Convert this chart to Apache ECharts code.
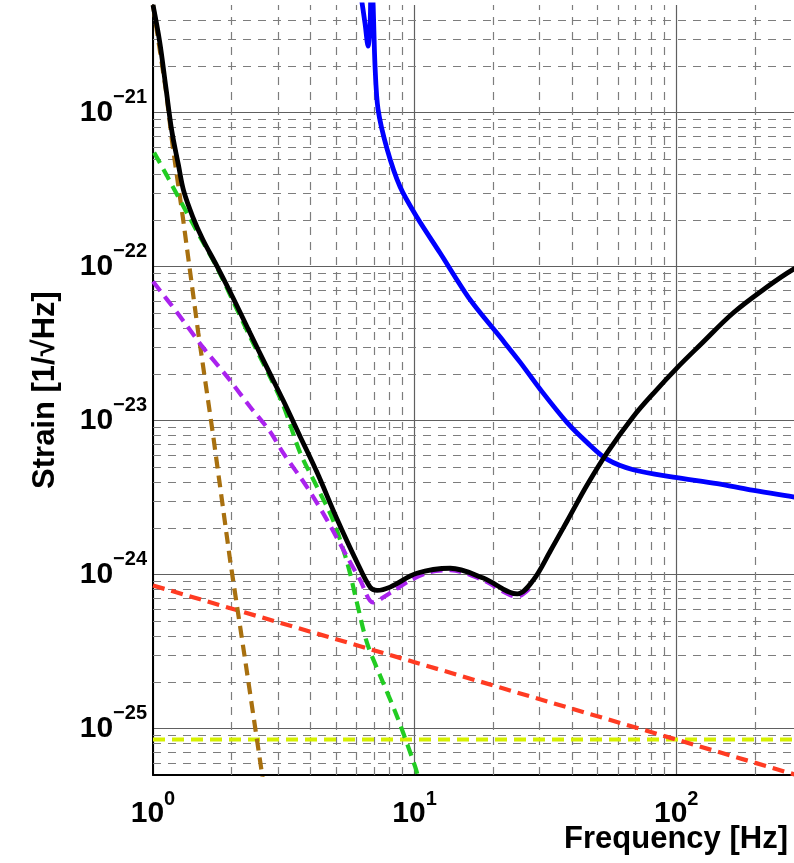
<!DOCTYPE html>
<html>
<head>
<meta charset="utf-8">
<script src="https://cdn.jsdelivr.net/npm/echarts@6/dist/echarts.min.js"></script>
<style>
  html, body { margin: 0; padding: 0; background: #fff; }
  #chart { width: 794px; height: 863px; }
</style>
</head>
<body>
<div id="chart"></div>
<script>
// axis ranges and grid multipliers
const freqRange = [1, 300]
const strainRange = [5e-26, 5e-21]
const minorSteps = [2, 3, 4, 5, 6, 7, 8, 9]
const freqDecades = [0, 1, 2]
const strainDecades = [-26, -25, -24, -23, -22, -21]

// total noise (black)
const totalFreq = [1.00, 1.06, 1.12, 1.18, 1.25, 1.31, 1.42, 1.55, 1.76, 2.02, 2.35, 2.73, 3.14, 3.65, 4.24, 5.05, 6.03, 6.76, 7.19, 8.06, 10.2, 13.7, 18.3, 24.7, 28.4, 33.0, 38.3, 45.7, 54.5, 68.5, 81.7, 101, 124, 165, 223, 280, 300]
const totalStrain = [5.0e-21, 2.9e-21, 1.46e-21, 7.6e-22, 4.6e-22, 3.1e-22, 2.1e-22, 1.5e-22, 1.0e-22, 6.3e-23, 3.7e-23, 2.2e-23, 1.36e-23, 7.9e-24, 4.6e-24, 2.3e-24, 1.2e-24, 8.3e-25, 7.9e-25, 8.3e-25, 1.02e-24, 1.10e-24, 9.5e-25, 7.5e-25, 9.2e-25, 1.42e-24, 2.23e-24, 3.83e-24, 6.2e-24, 1.06e-23, 1.5e-23, 2.21e-23, 3.12e-23, 5.0e-23, 7.4e-23, 9.6e-23, 1.0e-22]

// blue curve
const blueFreq = [6.19, 6.47, 6.64, 6.76, 6.82, 6.88, 6.94, 7.06, 7.25, 7.85, 8.80, 10.2, 12.5, 16.3, 21.2, 25.3, 30.2, 38.3, 45.7, 54.5, 68.5, 97.4, 143.5, 192, 280, 300]
const blueStrain = [6.3e-21, 3.75e-21, 2.7e-21, 3.75e-21, 6.3e-21, 6.3e-21, 5.06e-21, 2.0e-21, 1.05e-21, 5.8e-22, 3.3e-22, 2.1e-22, 1.23e-22, 6.1e-23, 3.5e-23, 2.4e-23, 1.6e-23, 9.7e-24, 7.2e-24, 5.6e-24, 4.8e-24, 4.3e-24, 3.9e-24, 3.55e-24, 3.2e-24, 3.1e-24]

// green dashed
const greenFreq = [1.01, 1.13, 1.30, 1.55, 1.76, 2.02, 2.35, 2.73, 3.14, 3.65, 4.24, 4.88, 5.53, 6.03, 6.58, 7.39, 8.57, 10.07, 10.5]
const greenStrain = [5.5e-22, 3.9e-22, 2.5e-22, 1.45e-22, 9.8e-23, 6.0e-23, 3.5e-23, 2.1e-23, 1.27e-23, 6.2e-24, 3.7e-24, 2.26e-24, 1.19e-24, 6.5e-25, 3.6e-25, 2.2e-25, 1.2e-25, 5.6e-26, 4.3e-26]

// purple dashed
const purpleFreq = [1.00, 1.24, 1.55, 1.92, 2.35, 2.80, 3.14, 3.88, 4.63, 5.53, 6.20, 6.93, 8.06, 9.63, 11.5, 13.7, 18.3, 24.7, 28.4]
const purpleStrain = [8.0e-23, 5.0e-23, 3.0e-23, 1.93e-23, 1.23e-23, 8.5e-24, 6.2e-24, 3.7e-24, 2.26e-24, 1.3e-24, 9.2e-25, 6.6e-25, 7.6e-25, 9.2e-25, 1.04e-24, 1.07e-24, 9.2e-25, 7.2e-25, 8.6e-25]

// brown dashed
const brownFreq = [1.00, 1.12, 1.19, 1.30, 1.49, 1.70, 1.97, 2.25, 2.61, 2.66]
const brownStrain = [5.0e-21, 1.4e-21, 6.0e-22, 2.1e-22, 3.7e-23, 7.9e-24, 1.25e-24, 2.8e-25, 5.1e-26, 4.0e-26]

// red dashed
const redFreq = [1, 10, 100, 300]
const redStrain = [8.5e-25, 2.7e-25, 8.5e-26, 4.9e-26]

// yellow-green dashed
const yellowFreq = [1, 300]
const yellowStrain = [8.5e-26, 8.5e-26]

const zip = (xs, ys) => xs.map((x, i) => [x, ys[i]])

const minorFreq = []
freqDecades.forEach(d => minorSteps.forEach(k => {
  const v = k * Math.pow(10, d)
  if (v < freqRange[1]) minorFreq.push(v)
}))
const minorStrain = []
strainDecades.forEach(d => minorSteps.forEach(k => {
  const v = k * Math.pow(10, d)
  if (v > strainRange[0] && v < strainRange[1]) minorStrain.push(v)
}))

const gridSegments = minorFreq.map(v => ({ coords: [[v, strainRange[0]], [v, strainRange[1]]] }))
  .concat(minorStrain.map(v => ({ coords: [[freqRange[0], v], [freqRange[1], v]] })))

const powLabel = (value) => {
  if (!(value > 0)) return ''
  const lg = Math.log10(value)
  const e = Math.round(lg)
  if (Math.abs(lg - e) > 1e-6) return ''
  const s = e < 0 ? '\u2212' + (-e) : String(e)
  return '{b|10}{s|' + s + '}'
}

const labelRich = {
  b: { fontSize: 30, fontWeight: 'bold', fontFamily: 'Liberation Sans', color: '#000', lineHeight: 50 },
  s: { fontSize: 20, fontWeight: 'bold', fontFamily: 'Liberation Sans', color: '#000', lineHeight: 20, verticalAlign: 'top' }
}

const dashed = (name, xs, ys, color, smooth) => ({
  name: name,
  type: 'line',
  data: zip(xs, ys),
  showSymbol: false,
  smooth: smooth,
  lineStyle: { color: color, width: 4.2, type: [12, 7] }
})

const chart = echarts.init(document.getElementById('chart'))

const option = {
  animation: false,
  backgroundColor: '#ffffff',
  title: {
    text: 'Frequency [Hz]',
    right: 6,
    top: 824,
    padding: 0,
    textStyle: { fontSize: 31, fontWeight: 'bold', fontFamily: 'Liberation Sans', color: '#000' }
  },
  grid: { left: 153, top: 5, right: -7, bottom: 88, containLabel: false, outerBoundsMode: 'none' },
  xAxis: {
    type: 'log',
    min: freqRange[0],
    max: freqRange[1],
    axisLine: { show: true, lineStyle: { color: '#000', width: 2 } },
    axisTick: { show: false },
    axisLabel: { margin: 14, formatter: powLabel, rich: labelRich },
    splitLine: { show: true, lineStyle: { color: '#606060', width: 1.2 } }
  },
  yAxis: {
    type: 'log',
    min: strainRange[0],
    max: strainRange[1],
    name: 'Strain [1/\u221AHz]',
    nameLocation: 'middle',
    nameGap: 92,
    nameMoveOverlap: false,
    nameTextStyle: { fontSize: 31, fontWeight: 'bold', fontFamily: 'Liberation Sans', color: '#000' },
    axisLine: { show: true, lineStyle: { color: '#000', width: 2 } },
    axisTick: { show: false },
    axisLabel: { margin: 6, formatter: powLabel, rich: labelRich },
    splitLine: { show: true, lineStyle: { color: '#606060', width: 1.2 } }
  },
  series: [
    {
      name: 'minor grid',
      type: 'lines',
      coordinateSystem: 'cartesian2d',
      z: 1,
      silent: true,
      lineStyle: { color: '#7d7d7d', width: 1.2, type: [8, 7], opacity: 1 },
      data: gridSegments
    },
    dashed('yellow', yellowFreq, yellowStrain, '#d6f000', false),
    dashed('red', redFreq, redStrain, '#ff3b22', false),
    dashed('brown', brownFreq, brownStrain, '#a8700f', false),
    dashed('green', greenFreq, greenStrain, '#22cc22', 0.3),
    dashed('purple', purpleFreq, purpleStrain, '#aa22ee', 0.3),
    {
      name: 'blue',
      type: 'line',
      data: zip(blueFreq, blueStrain),
      showSymbol: false,
      smooth: 0.3,
      lineStyle: { color: '#0000ff', width: 4.8 }
    },
    {
      name: 'total',
      type: 'line',
      data: zip(totalFreq, totalStrain),
      showSymbol: false,
      smooth: 0.35,
      lineStyle: { color: '#000000', width: 4.8 }
    }
  ]
}

chart.setOption(option)
</script>
</body>
</html>
